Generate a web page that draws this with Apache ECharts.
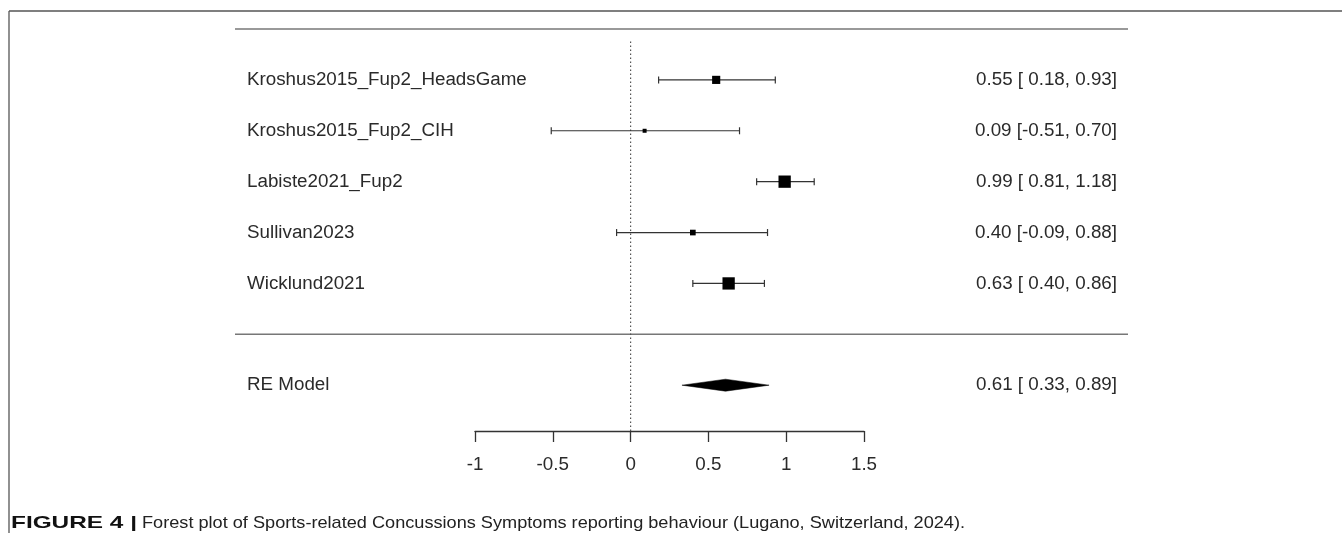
<!DOCTYPE html>
<html><head><meta charset="utf-8">
<script src="https://cdn.jsdelivr.net/npm/echarts@6/dist/echarts.min.js"></script>
<style>html,body{margin:0;padding:0;background:#fff}#c{width:1342px;height:533px}</style>
</head><body><div id="c"></div>
<script>
// ---- data ----
const studies = ['Kroshus2015_Fup2_HeadsGame','Kroshus2015_Fup2_CIH','Labiste2021_Fup2','Sullivan2023','Wicklund2021'];
const estimates = [0.55, 0.09, 0.99, 0.40, 0.63];
const ciLower   = [0.18, -0.51, 0.81, -0.09, 0.40];
const ciUpper   = [0.93, 0.70, 1.18, 0.88, 0.86];
const weights   = [19, 14, 24, 16, 24];          // relative weights (estimated from square sizes)
const pooledLabel = 'RE Model';
const pooledEstimate = 0.61;
const pooledLower = 0.33;
const pooledUpper = 0.89;
const xTicks = [-1, -0.5, 0, 0.5, 1, 1.5];
const captionBold = 'FIGURE 4 |';
const captionText = 'Forest plot of Sports-related Concussions Symptoms reporting behaviour (Lugano, Switzerland, 2024).';

// ---- derived layout rows ----
const k = studies.length;
const studyRows = studies.map((s, i) => k + 2 - i);   // 7..3
const pooledRow = 1;
const sepRow = 2;
const topRow = k + 3;

const fmt = v => v.toFixed(2);
const ciText = (e, lo, hi) => fmt(e) + ' [' + (lo < 0 ? '' : ' ') + fmt(lo) + ', ' + fmt(hi) + ']';

const leftNames = {}; const rightVals = {};
studies.forEach((s, i) => { leftNames[studyRows[i]] = s; rightVals[studyRows[i]] = ciText(estimates[i], ciLower[i], ciUpper[i]); });
leftNames[pooledRow] = pooledLabel;
rightVals[pooledRow] = ciText(pooledEstimate, pooledLower, pooledUpper);
const labelRows = studyRows.concat([pooledRow]);

const FONT = '"Liberation Sans", Arial, Helvetica, sans-serif';
const TXT = '#2a2a2a';
const FS = 18.8;
const wMin = Math.min(...weights), wMax = Math.max(...weights);

const chart = echarts.init(document.getElementById('c'), null, {renderer: 'canvas'});

// caption width fit (condensed look)
const cv = document.createElement('canvas').getContext('2d');
cv.font = 'bold 17px ' + FONT; const wb = cv.measureText(captionBold).width;
cv.font = '17px ' + FONT; const wn = cv.measureText(captionText).width;
const capScaleB = 126 / wb;
const capScaleN = 823 / wn;

const option = {
  animation: false,
  backgroundColor: '#fff',
  grid: {left: 475, right: 478, top: 29, bottom: 102},
  xAxis: {
    type: 'value', min: -1, max: 1.5, interval: 0.5,
    axisLine: {show: true, lineStyle: {color: '#333', width: 1.3}},
    axisTick: {show: true, length: 11, lineStyle: {color: '#333', width: 1.3}},
    axisLabel: {fontSize: FS, color: TXT, fontFamily: FONT, margin: 24, formatter: v => String(v)},
    splitLine: {show: false}
  },
  yAxis: [
    {
      type: 'value', min: 0.1, max: topRow, position: 'left',
      axisLine: {show: false}, axisTick: {show: false}, splitLine: {show: false},
      axisLabel: {customValues: labelRows, formatter: v => leftNames[v] || '', align: 'left', margin: 228,
        fontSize: FS, color: TXT, fontFamily: FONT}
    },
    {
      type: 'value', min: 0.1, max: topRow, position: 'right',
      axisLine: {show: false}, axisTick: {show: false}, splitLine: {show: false},
      axisLabel: {customValues: labelRows, formatter: v => rightVals[v] || '', align: 'right', margin: 253,
        fontSize: FS, color: TXT, fontFamily: FONT}
    }
  ],
  series: [
    { // horizontal rules
      type: 'custom', clip: false, silent: true,
      data: [[0, topRow], [0, sepRow]],
      renderItem: (params, api) => {
        const p = api.coord([0, api.value(1)]);
        const cs = params.coordSys;
        return {type: 'line', shape: {x1: cs.x - 240, y1: p[1], x2: cs.x + cs.width + 264, y2: p[1]},
          style: {stroke: '#777', lineWidth: 1.5}};
      }
    },
    { // reference line at 0
      type: 'custom', clip: false, silent: true,
      data: [[0, 0.1, topRow]],
      renderItem: (params, api) => {
        const a = api.coord([api.value(0), api.value(1)]);
        const b = api.coord([api.value(0), api.value(2)]);
        return {type: 'line', shape: {x1: a[0], y1: a[1], x2: b[0], y2: b[1] + 10},
          style: {stroke: '#555', lineWidth: 1.2, lineDash: [1.5, 2.5]}};
      }
    },
    { // study CIs and squares
      type: 'custom', clip: false, silent: true,
      data: studies.map((s, i) => [estimates[i], studyRows[i], ciLower[i], ciUpper[i], weights[i]]),
      renderItem: (params, api) => {
        const row = api.value(1);
        const c = api.coord([api.value(0), row]);
        const l = api.coord([api.value(2), row]);
        const h = api.coord([api.value(3), row]);
        const size = 4 + (api.value(4) - wMin) / (wMax - wMin) * 8.3;
        const ls = {stroke: '#333', lineWidth: 1.2};
        return {type: 'group', children: [
          {type: 'line', shape: {x1: l[0], y1: l[1], x2: h[0], y2: h[1]}, style: ls},
          {type: 'line', shape: {x1: l[0], y1: l[1] - 3.5, x2: l[0], y2: l[1] + 3.5}, style: ls},
          {type: 'line', shape: {x1: h[0], y1: h[1] - 3.5, x2: h[0], y2: h[1] + 3.5}, style: ls},
          {type: 'rect', shape: {x: c[0] - size / 2, y: c[1] - size / 2, width: size, height: size}, style: {fill: '#000'}}
        ]};
      }
    },
    { // pooled diamond
      type: 'custom', clip: false, silent: true,
      data: [[pooledEstimate, pooledRow, pooledLower, pooledUpper]],
      renderItem: (params, api) => {
        const row = api.value(1);
        const c = api.coord([api.value(0), row]);
        const l = api.coord([api.value(2), row]);
        const h = api.coord([api.value(3), row]);
        return {type: 'polygon', shape: {points: [[l[0], c[1]], [c[0], c[1] - 6], [h[0], c[1]], [c[0], c[1] + 6]]},
          style: {fill: '#000', stroke: '#000', lineWidth: 0.5}};
      }
    }
  ],
  graphic: [
    {type: 'line', silent: true, shape: {x1: 9, y1: 11, x2: 1342, y2: 11}, style: {stroke: '#555', lineWidth: 1.3}},
    {type: 'line', silent: true, shape: {x1: 9, y1: 11, x2: 9, y2: 533}, style: {stroke: '#555', lineWidth: 1.3}},
    {type: 'text', silent: true, x: 11, y: 523, scaleX: capScaleB,
      style: {text: captionBold, verticalAlign: 'middle', align: 'left', fontWeight: 'bold', fontSize: 17, fontFamily: FONT, fill: '#111'}},
    {type: 'text', silent: true, x: 142, y: 523, scaleX: capScaleN,
      style: {text: captionText, verticalAlign: 'middle', align: 'left', fontSize: 17, fontFamily: FONT, fill: '#222'}}
  ]
};
chart.setOption(option);
</script></body></html>
